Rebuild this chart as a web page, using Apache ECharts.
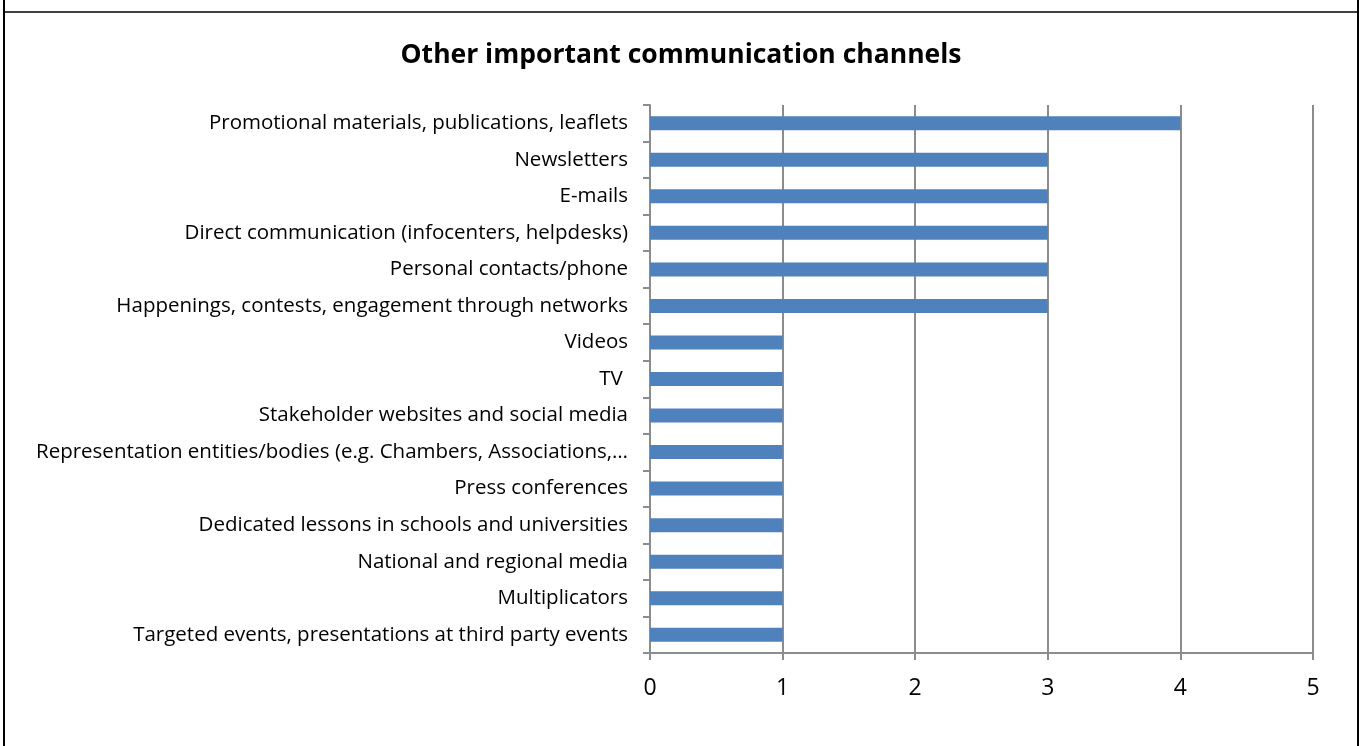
<!DOCTYPE html>
<html>
<head>
<meta charset="utf-8">
<script src="https://cdn.jsdelivr.net/npm/echarts@6/dist/echarts.min.js"></script>
<style>
html,body{margin:0;padding:0;background:#fff;}
#chart{width:1362px;height:746px;}
</style>
</head>
<body>
<div id="chart"></div>
<script>
const title = 'Other important communication channels';
const categories = [
  'Promotional materials, publications, leaflets',
  'Newsletters',
  'E-mails',
  'Direct communication (infocenters, helpdesks)',
  'Personal contacts/phone',
  'Happenings, contests, engagement through networks',
  'Videos',
  'TV ',
  'Stakeholder websites and social media',
  'Representation entities/bodies (e.g. Chambers, Associations,…',
  'Press conferences',
  'Dedicated lessons in schools and universities',
  'National and regional media',
  'Multiplicators',
  'Targeted events, presentations at third party events'
];
const values = [4, 3, 3, 3, 3, 3, 1, 1, 1, 1, 1, 1, 1, 1, 1];
const xTicks = [0, 1, 2, 3, 4, 5];

const FONT = '"Open Sans", sans-serif';
const chart = echarts.init(document.getElementById('chart'));
chart.setOption({
  animation: false,
  backgroundColor: '#fff',
  title: {
    text: title,
    left: 'center',
    top: 37,
    textStyle: { fontFamily: FONT, fontSize: 26.5, fontWeight: 'bold', color: '#000' }
  },
  grid: { left: 650, right: 49, top: 105, bottom: 93, containLabel: false },
  xAxis: {
    type: 'value',
    min: xTicks[0],
    max: xTicks[xTicks.length - 1],
    interval: 1,
    axisLine: { show: true, lineStyle: { color: '#8c8c8c', width: 2 } },
    axisTick: { show: true, length: 7, lineStyle: { color: '#8c8c8c', width: 2 } },
    splitLine: { show: true, lineStyle: { color: '#8c8c8c', width: 2 } },
    axisLabel: { margin: 24, fontFamily: FONT, fontSize: 23, color: '#000' }
  },
  yAxis: {
    type: 'category',
    inverse: true,
    data: categories,
    axisLine: { show: true, lineStyle: { color: '#8c8c8c', width: 2 } },
    axisTick: { show: true, length: 7, lineStyle: { color: '#8c8c8c', width: 2 } },
    axisLabel: { margin: 22, fontFamily: FONT, fontSize: 20.5, color: '#000' }
  },
  series: [{
    type: 'bar',
    data: values,
    barWidth: 14,
    itemStyle: { color: '#4F81BD' }
  }],
  graphic: [
    { type: 'line', shape: { x1: 4, y1: 0, x2: 4, y2: 746 }, style: { stroke: '#000', lineWidth: 2 } },
    { type: 'line', shape: { x1: 4, y1: 12, x2: 1358, y2: 12 }, style: { stroke: '#000', lineWidth: 1.5 } },
    { type: 'line', shape: { x1: 1358, y1: 0, x2: 1358, y2: 746 }, style: { stroke: '#000', lineWidth: 2 } }
  ]
});
</script>
</body>
</html>
